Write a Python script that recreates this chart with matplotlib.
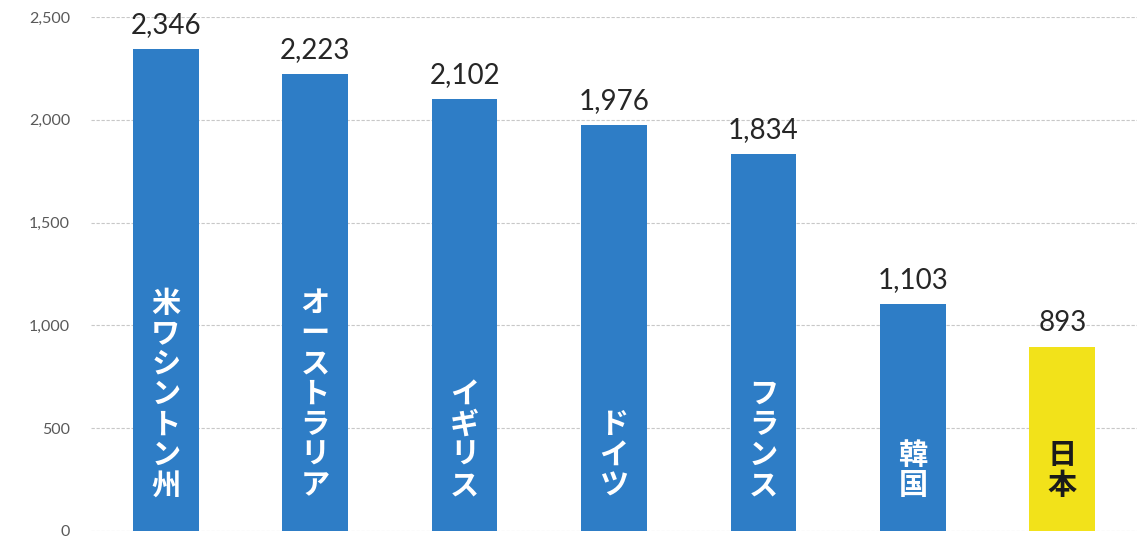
import matplotlib
matplotlib.use("Agg")
import matplotlib.pyplot as plt
from matplotlib.ticker import FuncFormatter

categories = ["米ワシントン州", "オーストラリア", "イギリス", "ドイツ", "フランス", "韓国", "日本"]
values = [2346, 2223, 2102, 1976, 1834, 1103, 893]
bar_colors = ["#2E7DC6"] * 6 + ["#F2E21A"]
label_colors = ["white"] * 6 + ["#1a1a1a"]
yticks = [0, 500, 1000, 1500, 2000, 2500]

plt.rcParams['font.family'] = ['Lato', 'DejaVu Sans']

fig = plt.figure(figsize=(11.44, 5.44), dpi=100)
ax = fig.add_axes([91/1144, 1 - 531/544, (1137 - 91)/1144, (531 - 17)/544])

x = list(range(len(categories)))
ax.bar(x, values, width=0.44, color=bar_colors, zorder=2)

ax.set_ylim(0, 2500)
ax.set_xlim(-0.5, len(categories) - 0.5)
ax.set_yticks(yticks)
ax.yaxis.set_major_formatter(FuncFormatter(lambda v, p: f"{int(v):,}"))
ax.tick_params(axis='y', length=0, pad=15, labelsize=11.5, labelcolor="#595959")
ax.set_xticks([])
for s in ax.spines.values():
    s.set_visible(False)
ax.grid(axis='y', color="#c8c8c8", linewidth=0.8, linestyle=(0, (3, 1.5)), zorder=0)
ax.set_axisbelow(True)

for xi, v, name, lc in zip(x, values, categories, label_colors):
    ax.annotate(f"{v:,}", (xi, v), xytext=(0, 8), textcoords="offset points",
                ha='center', va='bottom', fontsize=20, color="#262626", clip_on=False)
    ax.annotate("\n".join(name), (xi, 0), xytext=(0, 22), textcoords="offset points",
                ha='center', va='bottom', fontsize=21, fontweight='bold', color=lc,
                linespacing=1.02, family=['Noto Sans CJK JP', 'DejaVu Sans'])

fig.savefig("out.png", dpi=100)
